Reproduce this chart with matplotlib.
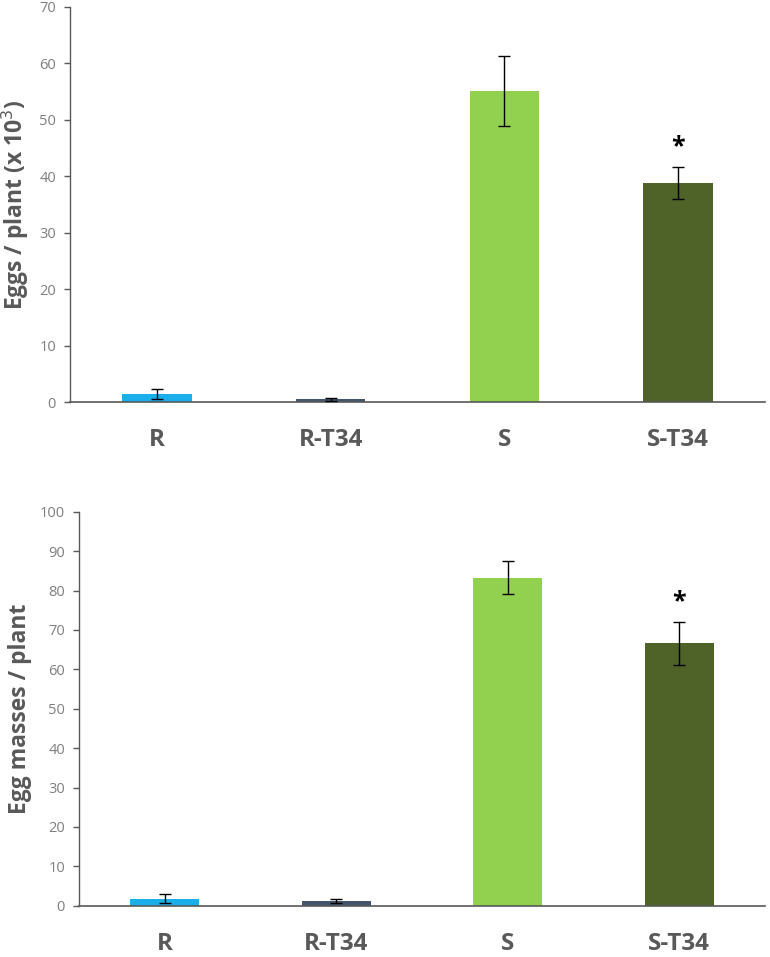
import matplotlib
matplotlib.use('Agg')
import matplotlib.pyplot as plt

plt.rcParams['font.family'] = ['Open Sans', 'DejaVu Sans']

groups = ['R', 'R-T34', 'S', 'S-T34']
bar_colors = ['#1AAEEA', '#44546A', '#92D050', '#4F6228']

# eggs per plant (x 10^3)
eggs = [1.4, 0.5, 55.1, 38.8]
eggs_err = [0.9, 0.3, 6.2, 2.9]

# egg masses per plant
masses = [1.8, 1.2, 83.2, 66.6]
masses_err = [1.2, 0.5, 4.2, 5.5]

fig = plt.figure(figsize=(7.7, 9.57), dpi=100)
ax1 = fig.add_axes([0.0909, 0.5799, 0.9026, 0.4128])
ax2 = fig.add_axes([0.1026, 0.0536, 0.8909, 0.4117])

axis_col = '#595959'
tick_col = '#7F7F7F'


def draw(ax, vals, errs, ymax, ylabel, star_idx):
    x = range(len(groups))
    ax.bar(x, vals, width=0.40, color=bar_colors, zorder=2)
    ax.errorbar(x, vals, yerr=errs, fmt='none', ecolor='black',
                elinewidth=1, capsize=4, capthick=1, zorder=3)
    ax.text(star_idx, vals[star_idx] + errs[star_idx] + ymax * 0.02, '*',
            ha='center', va='bottom', fontsize=18, fontweight='bold')
    ax.set_xlim(-0.5, 3.5)
    ax.set_ylim(0, ymax)
    ax.set_yticks(range(0, ymax + 1, 10))
    ax.set_xticks(list(x))
    ax.set_xticklabels(groups, fontsize=17.5, fontweight='bold', color=axis_col)
    ax.tick_params(axis='x', length=0, pad=19)
    ax.tick_params(axis='y', direction='out', length=4, width=1,
                   color=axis_col, labelsize=10.5, labelcolor=tick_col, pad=6)
    for s in ['top', 'right']:
        ax.spines[s].set_visible(False)
    ax.spines['left'].set_color(axis_col)
    ax.spines['bottom'].set_color(axis_col)
    ax.spines['left'].set_linewidth(1)
    ax.spines['bottom'].set_linewidth(1.2)
    ax.set_ylabel(ylabel, fontsize=16.5, fontweight='bold', color=axis_col,
                  labelpad=6)


draw(ax1, eggs, eggs_err, 70, 'Eggs / plant (x 10$^3$)', 3)
draw(ax2, masses, masses_err, 100, 'Egg masses / plant', 3)

fig.savefig('out.png', dpi=100)
